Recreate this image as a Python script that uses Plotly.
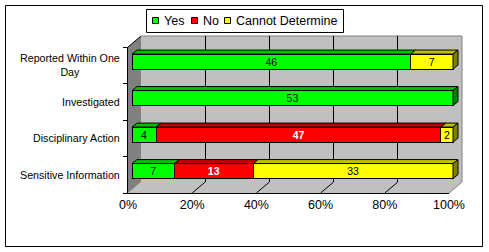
import plotly.graph_objects as go

# ---------------- data ----------------
categories = ["Reported Within One<br>Day", "Investigated", "Disciplinary Action", "Sensitive Information"]
series_names = ["Yes", "No", "Cannot Determine"]
yes_vals = [46, 53, 4, 7]
no_vals = [0, 0, 47, 13]
cd_vals = [7, 0, 2, 33]
tick_vals = [0, 20, 40, 60, 80, 100]
tick_text = ["0%", "20%", "40%", "60%", "80%", "100%"]

front_colors = ["#00FF00", "#FF0000", "#FFFF00"]
top_colors = ["#00C000", "#C00000", "#C0C000"]
side_colors = ["#008000", "#800000", "#808000"]
text_colors = ["black", "white", "black"]
text_weights = ["normal", "bold", "normal"]

FONT = "Liberation Sans, Arial, sans-serif"
W, H = 489, 252


def px(x):
    return x / W


def py(y):
    return 1 - y / H


series = [yes_vals, no_vals, cd_vals]
rows = list(range(len(categories)))

fig = go.Figure()

# ---- front faces of the bars (100% stacked) ----
BAR_W = 0.41
for name, vals, fc, tc, tw in zip(series_names, series, front_colors, text_colors, text_weights):
    fig.add_trace(go.Bar(
        x=[v if v else None for v in vals], y=rows, orientation="h", width=BAR_W,
        name=name, marker=dict(color=fc, line=dict(color="black", width=1)),
        text=[str(v) if v else "" for v in vals], textposition="inside", textangle=0,
        insidetextanchor="middle", constraintext="none",
        textfont=dict(family=FONT, size=10.5, color=tc, weight=tw),
        xaxis="x3", yaxis="y3", showlegend=False, hoverinfo="skip",
    ))

# ---- 3D top / side faces, computed from the same values ----
BAR_PX = 321.0
CAT_PX = 36.5
DX = 5 * 100.0 / BAR_PX
DY = 4 / CAT_PX
for si in range(3):
    tx, ty, sx, sy = [], [], [], []
    for r in rows:
        tot = sum(s[r] for s in series)
        x0 = sum(series[k][r] for k in range(si)) / tot * 100
        x1 = x0 + series[si][r] / tot * 100
        if series[si][r] == 0:
            continue
        yt = r - BAR_W / 2
        yb = r + BAR_W / 2
        tx += [x0, x1, x1 + DX, x0 + DX, x0, None]
        ty += [yt, yt, yt - DY, yt - DY, yt, None]
        last = all(series[k][r] == 0 for k in range(si + 1, 3))
        if last:
            sx += [x1, x1, x1 + DX, x1 + DX, x1, None]
            sy += [yt, yb, yb - DY, yt - DY, yt, None]
    fig.add_trace(go.Scatter(x=tx, y=ty, mode="lines", fill="toself", fillcolor=top_colors[si],
                             line=dict(color="black", width=1), xaxis="x3", yaxis="y3",
                             showlegend=False, hoverinfo="skip"))
    if sx:
        fig.add_trace(go.Scatter(x=sx, y=sy, mode="lines", fill="toself", fillcolor=side_colors[si],
                                 line=dict(color="black", width=1), xaxis="x3", yaxis="y3",
                                 showlegend=False, hoverinfo="skip"))

# dummy traces for the back-wall grid subplot and front frame
fig.add_trace(go.Scatter(x=[None], y=[None], xaxis="x", yaxis="y", showlegend=False, hoverinfo="skip"))
fig.add_trace(go.Scatter(x=[None], y=[None], xaxis="x2", yaxis="y2", showlegend=False, hoverinfo="skip"))

shapes = []
# back wall
shapes.append(dict(type="path", xref="paper", yref="paper", layer="below",
                   path=f"M{px(141)},{py(36)} L{px(462)},{py(36)} L{px(462)},{py(182)} L{px(141)},{py(182)} Z",
                   fillcolor="#C0C0C0", line=dict(width=0)))
# floor
shapes.append(dict(type="path", xref="paper", yref="paper", layer="below",
                   path=f"M{px(128)},{py(193)} L{px(449)},{py(193)} L{px(462)},{py(182)} L{px(141)},{py(182)} Z",
                   fillcolor="#C0C0C0", line=dict(width=0)))
# left wall
shapes.append(dict(type="path", xref="paper", yref="paper", layer="below",
                   path=f"M{px(128)},{py(47)} L{px(141)},{py(36)} L{px(141)},{py(182)} L{px(128)},{py(193)} Z",
                   fillcolor="#808080", line=dict(width=0)))
# wall edges
shapes.append(dict(type="path", xref="paper", yref="paper", layer="below",
                   path=f"M{px(141)},{py(36)} L{px(462)},{py(36)} L{px(462)},{py(182)} L{px(449)},{py(193)}",
                   line=dict(color="#808080", width=1)))
shapes.append(dict(type="line", xref="paper", yref="paper", layer="below",
                   x0=px(128), y0=py(47), x1=px(141), y1=py(36), line=dict(color="black", width=1)))
# floor gridlines
for v in tick_vals[1:-1]:
    shapes.append(dict(type="line", xref="x2", xsizemode="pixel", xanchor=v, x0=0, x1=13,
                       yref="paper", y0=py(193), y1=py(182), layer="below",
                       line=dict(color="black", width=1)))
# outer border
shapes.append(dict(type="rect", xref="paper", yref="paper", x0=px(5.5), y0=py(5.5), x1=px(482.5), y1=py(246.5),
                   line=dict(color="black", width=1), fillcolor="rgba(0,0,0,0)"))
# legend box and swatches
shapes.append(dict(type="rect", xref="paper", yref="paper", x0=px(146.5), y0=py(9.5), x1=px(343.5), y1=py(32.5),
                   line=dict(color="black", width=1), fillcolor="white"))
annotations = []
legend_sw = [152, 191, 224]
legend_tx = [162, 201, 234]
for name, c, sxp, txp in zip(series_names, front_colors, legend_sw, legend_tx):
    shapes.append(dict(type="rect", xref="paper", yref="paper", x0=px(sxp + 0.5), y0=py(17.5), x1=px(sxp + 6.5),
                       y1=py(23.5), line=dict(color="black", width=1), fillcolor=c))
    annotations.append(dict(text=name, xref="paper", yref="paper", x=px(txp), y=py(20.5), xanchor="left",
                            yanchor="middle", showarrow=False, font=dict(family=FONT, size=12.5, color="black")))

# category labels
for r, cat in zip(rows, categories):
    annotations.append(dict(text=cat, xref="paper", yref="y2", x=px(122), y=r, xanchor="right",
                            yanchor="middle", align="center", showarrow=False,
                            font=dict(family=FONT, size=10.7, color="black")))

fig.update_layout(
    template="none", width=W, height=H, autosize=False,
    margin=dict(l=0, r=0, t=0, b=0, pad=0),
    paper_bgcolor="white", plot_bgcolor="rgba(0,0,0,0)",
    font=dict(family=FONT, size=12.5, color="black"),
    barmode="stack", barnorm="percent", showlegend=False,
    shapes=shapes, annotations=annotations,
    xaxis=dict(domain=[px(141), px(462)], range=[0, 100], anchor="y", tickvals=tick_vals[1:-1],
               showgrid=True, gridcolor="black", gridwidth=1, showticklabels=False, ticks="",
               showline=False, zeroline=False, automargin=False, fixedrange=True),
    yaxis=dict(domain=[py(182), py(36)], range=[0, 1], anchor="x", visible=False, showgrid=False,
               zeroline=False, automargin=False, fixedrange=True),
    xaxis2=dict(domain=[px(128), px(449)], range=[0, 100], anchor="y2", tickvals=tick_vals, ticktext=tick_text,
                showgrid=False, zeroline=False, showline=True, linecolor="black", linewidth=1, ticks="",
                tickfont=dict(family=FONT, size=12.5, color="black"), automargin=False, fixedrange=True),
    yaxis2=dict(domain=[py(193), py(47)], range=[3.5, -0.5], anchor="x2",
                tickvals=[-0.5, 0.5, 1.5, 2.5, 3.5], ticks="outside", ticklen=4, tickcolor="black",
                tickwidth=1, showticklabels=False, showgrid=False, zeroline=False, showline=True,
                linecolor="black", linewidth=1, automargin=False, fixedrange=True),
    xaxis3=dict(domain=[px(132), px(132 + BAR_PX * 1.04)], range=[0, 104], anchor="y3", visible=False,
                showgrid=False, zeroline=False, automargin=False, fixedrange=True),
    yaxis3=dict(domain=[py(189.3), py(43.3)], range=[3.5, -0.5], anchor="x3", visible=False,
                showgrid=False, zeroline=False, automargin=False, fixedrange=True),
)

fig.write_html("out.html", config={"displayModeBar": False})
